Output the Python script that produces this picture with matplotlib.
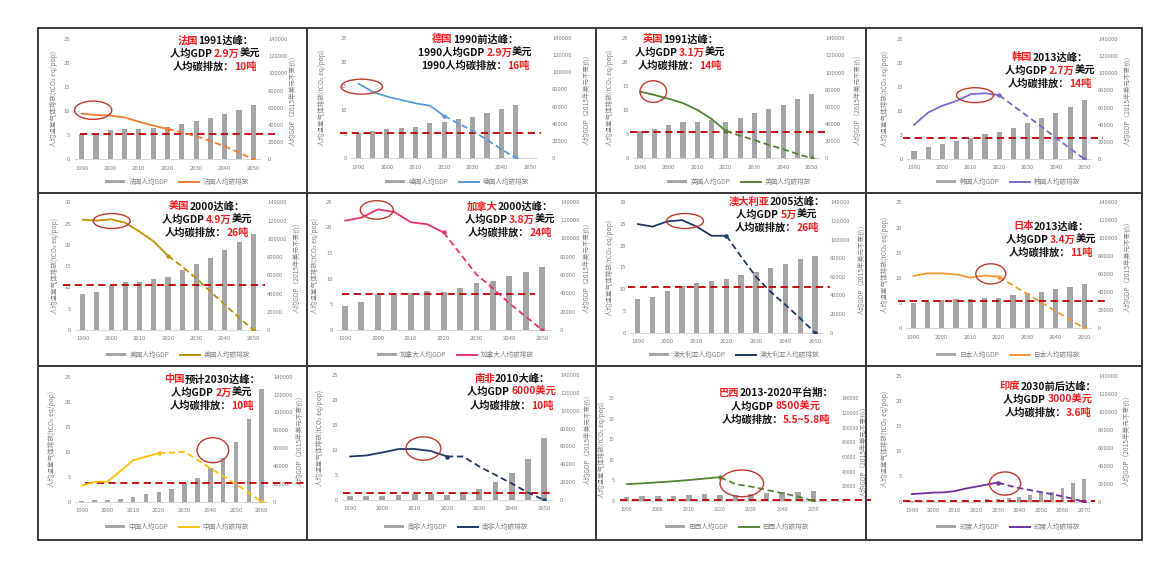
import numpy as np
import matplotlib
matplotlib.use("Agg")
import matplotlib.pyplot as plt
from matplotlib.patches import Ellipse, Rectangle, Patch
from matplotlib.lines import Line2D
from matplotlib.offsetbox import TextArea, HPacker, VPacker, AnnotationBbox

W, H, DPI = 1166, 567, 100
CJK = ['Noto Sans CJK SC', 'DejaVu Sans']
plt.rcParams['font.family'] = CJK

# ---------------------------------------------------------------- data
years_2050 = [1990, 1995, 2000, 2005, 2010, 2015, 2020, 2025, 2030, 2035, 2040, 2045, 2050]
years_2060 = years_2050 + [2055, 2060]
years_2070 = years_2060 + [2065, 2070]

france_gdp = [29100, 30300, 34100, 35300, 35300, 36800, 38000, 41100, 44600, 48500, 52700, 57400, 63200]
france_emis = [9.5, 9.2, 9.1, 8.7, 7.8, 7.0, 6.3, 5.6, 4.8, 3.8, 2.7, 1.4, 0.0]

germany_gdp = [29000, 31700, 34000, 34800, 36700, 40600, 41800, 45200, 48300, 52200, 57200, 61900]
germany_emis = [15.5, 13.8, 12.8, 12.1, 11.4, 10.9, 8.8, 7.2, 5.7, 3.8, 1.9, 0.0]

uk_gdp = [31900, 33800, 38900, 42800, 42800, 44700, 42000, 47400, 52500, 57600, 62200, 69200, 75100]
uk_emis = [13.9, 13.2, 12.4, 11.5, 10.1, 8.2, 5.7, 4.7, 3.8, 2.8, 1.9, 0.9, 0.0]

korea_gdp = [9300, 13600, 17100, 21400, 24900, 29200, 31900, 35800, 41600, 47400, 53300, 61100, 68800]
korea_emis = [7.1, 9.7, 11.1, 12.1, 13.5, 13.7, 13.3, 11.1, 8.9, 6.7, 4.4, 2.2, 0.0]

usa_gdp = [39500, 41300, 48600, 52300, 52300, 55900, 57800, 65800, 72400, 79300, 87700, 96100, 105300]
usa_emis = [25.9, 25.7, 26.0, 25.2, 23.1, 20.8, 17.4, 14.9, 12.1, 9.0, 5.9, 2.9, 0.0]

canada_gdp = [26200, 30900, 38900, 40000, 40000, 42500, 41100, 46200, 50900, 53800, 58900, 63600, 68400]
canada_emis = [21.3, 21.9, 23.5, 23.0, 21.0, 20.6, 19.0, 14.9, 10.8, 8.1, 5.2, 2.6, 0.0]

australia_gdp = [36200, 38700, 44800, 50500, 53000, 55500, 57300, 61600, 65500, 69100, 73800, 78800, 82700]
australia_emis = [25.0, 24.4, 25.6, 25.9, 24.4, 22.3, 22.3, 17.5, 12.9, 9.4, 6.4, 3.3, 0.0]

japan_gdp = [27800, 29600, 31500, 32600, 32200, 34100, 34100, 37000, 38900, 40700, 43700, 46300, 49300]
japan_emis = [10.4, 10.9, 10.9, 10.7, 10.05, 10.45, 10.25, 8.5, 6.8, 5.1, 3.4, 1.7, 0.0]

china_gdp = [750, 1500, 2200, 3400, 5600, 8200, 11200, 14200, 19800, 26100, 37300, 48500, 67200, 92600, 126200]
china_emis = [3.2, 4.0, 4.0, 6.1, 8.3, 9.0, 9.7, 9.8, 10.0, 8.4, 6.7, 5.1, 3.5, 1.8, 0.0]

safrica_gdp = [4500, 4500, 4900, 5600, 6300, 6300, 5600, 8200, 12300, 19800, 29900, 45500, 69800]
safrica_emis = [8.7, 8.9, 9.5, 10.2, 10.2, 9.8, 8.7, 8.7, 6.7, 5.0, 3.3, 1.5, 0.0]

brazil_gdp = [5900, 6800, 6800, 6800, 8200, 9100, 7700, 8200, 9500, 10900, 11800, 12700, 13600]
brazil_emis = [4.1, 4.3, 4.55, 4.8, 5.1, 5.45, 5.8, 4.1, 3.5, 2.7, 1.9, 1.1, 0.0]

india_gdp = [370, 370, 740, 1100, 1500, 1900, 2200, 2600, 3300, 3700, 5600, 7400, 9600, 11100, 14800, 20400, 25200]
india_emis = [1.5, 1.65, 1.8, 1.85, 2.1, 2.6, 3.0, 3.4, 3.8, 3.2, 2.7, 2.3, 1.9, 1.5, 1.05, 0.55, 0.0]

# reference level on the emissions axis
ref_levels = dict(france=5.2, germany=5.2, uk=5.55, korea=4.3, usa=10.6, canada=6.95,
                  australia=10.4, japan=5.4, china=3.65, safrica=1.47, brazil=0.25, india=0.1)

# ---------------------------------------------------------------- styles
BAR_GRAY = '#A5A5A5'
AXIS_GRAY = '#808080'
REF_RED = '#C00000'
RING_RED = '#C0392B'
TXT_RED = '#F01E1E'
K = '#111111'

LEFT_LABEL = '人均温室气体排放(tCO₂ eq/pop)'
RIGHT_LABEL = '人均GDP（2015年美元不变价）'

panels = [
    dict(name='法国', years=years_2050, gdp=france_gdp, emis=france_emis, solid_end=6, ymax=25,
         color='#ED7D31', ref=ref_levels['france'], ring=(0.8, 10.2, 2.6, 3.8),
         note=[[('法国', TXT_RED), ('1991达峰：', K)],
               [('人均GDP ', K), ('2.9万', TXT_RED), ('美元', K)],
               [('人均碳排放：', K), ('10吨', TXT_RED)]],
         lay=dict(box=(38, 28, 307, 193), x0=81.7, xN=253.3, y0=159.3, yt=39, ll=54, lr=293, rt=268,
                  lg=(177, 182), txt=(215, 35), span=(-0.1, 13.5))),
    dict(name='德国', years=years_2050, gdp=germany_gdp, emis=germany_emis, solid_end=6, ymax=25,
         color='#5B9BD5', ref=ref_levels['germany'], ring=(0.24, 14.85, 2.9, 3.1),
         note=[[('德国', TXT_RED), ('1990前达峰：', K)],
               [('1990人均GDP ', K), ('2.9万', TXT_RED), ('美元', K)],
               [('1990人均碳排放：', K), ('16吨', TXT_RED)]],
         lay=dict(box=(307, 28, 596, 193), x0=358.3, xN=530, y0=158.3, yt=37.7, ll=322, lr=587, rt=552,
                  lg=(457, 182), txt=(475, 34), span=(-1.3, 12.8))),
    dict(name='英国', years=years_2050, gdp=uk_gdp, emis=uk_emis, solid_end=6, ymax=25,
         color='#548235', ref=ref_levels['uk'], ring=(0.93, 13.9, 1.86, 4.5),
         note=[[('英国', TXT_RED), ('1991达峰：', K)],
               [('人均GDP ', K), ('3.1万', TXT_RED), ('美元', K)],
               [('人均碳排放：', K), ('14吨', TXT_RED)]],
         lay=dict(box=(596, 28, 866, 193), x0=640, xN=811.7, y0=158.3, yt=38.3, ll=610, lr=858, rt=825,
                  lg=(739, 182), txt=(680, 34), span=(-0.7, 13.1))),
    dict(name='韩国', years=years_2050, gdp=korea_gdp, emis=korea_emis, solid_end=6, ymax=25,
         color='#7B68CC', ref=ref_levels['korea'], ring=(4.3, 13.3, 2.6, 3.1),
         note=[[('韩国', TXT_RED), ('2013达峰：', K)],
               [('人均GDP ', K), ('2.7万', TXT_RED), ('美元', K)],
               [('人均碳排放：', K), ('14吨', TXT_RED)]],
         lay=dict(box=(866, 28, 1142, 193), x0=914, xN=1084.3, y0=159, yt=39, ll=885, lr=1128, rt=1098,
                  lg=(1008, 182), txt=(1050, 52), span=(-0.8, 13.3))),
    dict(name='美国', years=years_2050, gdp=usa_gdp, emis=usa_emis, solid_end=6, ymax=30,
         color='#BF9000', ref=ref_levels['usa'], ring=(2.04, 25.6, 2.6, 3.5),
         note=[[('美国', TXT_RED), ('2000达峰：', K)],
               [('人均GDP ', K), ('4.9万', TXT_RED), ('美元', K)],
               [('人均碳排放：', K), ('26吨', TXT_RED)]],
         lay=dict(box=(38, 193, 307, 366), x0=82.7, xN=253.3, y0=330, yt=202.3, ll=55, lr=297, rt=267,
                  lg=(178, 355), txt=(207, 201), span=(-1.4, 12.8))),
    dict(name='加拿大', years=years_2050, gdp=canada_gdp, emis=canada_emis, solid_end=6, ymax=25,
         color='#E8336E', ref=ref_levels['canada'], ring=(1.93, 23.4, 2.0, 3.6),
         note=[[('加拿大', TXT_RED), ('2000达峰：', K)],
               [('人均GDP ', K), ('3.8万', TXT_RED), ('美元', K)],
               [('人均碳排放：', K), ('24吨', TXT_RED)]],
         lay=dict(box=(307, 193, 596, 366), x0=345, xN=542.3, y0=330, yt=201.7, ll=315, lr=587, rt=560,
                  lg=(455, 355), txt=(510, 201), span=(-0.2, 11.55))),
    dict(name='澳大利亚', years=years_2050, gdp=australia_gdp, emis=australia_emis, solid_end=6, ymax=30,
         color='#1F3864', ref=ref_levels['australia'], ring=(3.2, 25.7, 2.5, 3.45),
         note=[[('澳大利亚', TXT_RED), ('2005达峰：', K)],
               [('人均GDP ', K), ('5万', TXT_RED), ('美元', K)],
               [('人均碳排放：', K), ('26吨', TXT_RED)]],
         lay=dict(box=(596, 193, 866, 366), x0=637.7, xN=815, y0=332.7, yt=202.3, ll=610, lr=862, rt=830,
                  lg=(734, 355), txt=(777, 196), span=(-0.66, 13.0))),
    dict(name='日本', years=years_2050, gdp=japan_gdp, emis=japan_emis, solid_end=6, ymax=25,
         color='#F7962F', ref=ref_levels['japan'], ring=(5.44, 10.8, 2.1, 4.0),
         note=[[('日本', TXT_RED), ('2013达峰：', K)],
               [('人均GDP ', K), ('3.4万', TXT_RED), ('美元', K)],
               [('人均碳排放：', K), ('11吨', TXT_RED)]],
         lay=dict(box=(866, 193, 1142, 366), x0=913.3, xN=1084.3, y0=328.3, yt=202.3, ll=885, lr=1128, rt=1098,
                  lg=(1008, 355), txt=(1051, 221), span=(-1.1, 13.7))),
    dict(name='中国', years=years_2060, gdp=china_gdp, emis=china_emis, solid_end=6, ymax=25,
         color='#FFC000', ref=ref_levels['china'], ring=(10.2, 10.3, 2.46, 5.0),
         note=[[('中国', TXT_RED), ('预计2030达峰：', K)],
               [('人均GDP ', K), ('2万', TXT_RED), ('美元', K)],
               [('人均碳排放：', K), ('10吨', TXT_RED)]],
         lay=dict(box=(38, 366, 307, 540), x0=81.7, xN=261.7, y0=501.7, yt=376.7, ll=52, lr=300, rt=273,
                  lg=(177, 527), txt=(212, 374), span=(0.26, 17.5))),
    dict(name='南非', years=years_2050, gdp=safrica_gdp, emis=safrica_emis, solid_end=6, ymax=25,
         color='#1F3864', ref=ref_levels['safrica'], ring=(4.54, 10.3, 2.16, 4.67),
         note=[[('南非', TXT_RED), ('2010大峰：', K)],
               [('人均GDP ', K), ('6000美元', TXT_RED)],
               [('人均碳排放：', K), ('10吨', TXT_RED)]],
         lay=dict(box=(307, 366, 596, 540), x0=350, xN=544, y0=500, yt=375, ll=320, lr=588, rt=560,
                  lg=(456, 527), txt=(512, 374), span=(-0.43, 12.4))),
    dict(name='巴西', years=years_2050, gdp=brazil_gdp, emis=brazil_emis, solid_end=6, ymax=25,
         color='#548235', ref=ref_levels['brazil'], ring=(7.4, 4.3, 2.8, 6.5),
         note=[[('巴西', TXT_RED), ('2013-2020平台期：', K)],
               [('人均GDP ', K), ('8500美元', TXT_RED)],
               [('人均碳排放：', K), ('5.5~5.8吨', TXT_RED)]],
         lay=dict(box=(596, 366, 866, 540), x0=626.7, xN=813.3, y0=501, yt=398.3, ll=602, lr=864, rt=842,
                  lg=(737, 527), txt=(776, 388), span=(-0.43, 15.7), xhi=13.8, tick=3.7)),
    dict(name='印度', years=years_2070, gdp=india_gdp, emis=india_emis, solid_end=8, ymax=25,
         color='#7030A0', ref=ref_levels['india'], ring=(8.67, 3.6, 2.9, 4.6),
         note=[[('印度', TXT_RED), ('2030前后达峰：', K)],
               [('人均GDP ', K), ('3000美元', TXT_RED)],
               [('人均碳排放：', K), ('3.6吨', TXT_RED)]],
         lay=dict(box=(866, 366, 1142, 540), x0=911.7, xN=1084, y0=501.7, yt=375.7, ll=885, lr=1127, rt=1098,
                  lg=(1008, 527), txt=(1048, 381), span=(-0.8, 17.0))),
]

fig = plt.figure(figsize=(W / DPI, H / DPI), dpi=DPI)
fig.patch.set_facecolor('white')


def fxy(px, py):
    return px / W, 1 - py / H


def draw_panel(p):
    lay = p['lay']
    tick_size = lay.get('tick', 4.2)
    n_cat = len(p['years'])
    ppi = (lay['xN'] - lay['x0']) / (n_cat - 1)
    xlo, xhi = -0.5, lay.get('xhi', n_cat - 0.5)
    left = lay['x0'] + xlo * ppi
    right = lay['x0'] + xhi * ppi

    # panel frame
    bx0, by0, bx1, by1 = lay['box']
    fig.add_artist(Rectangle(fxy(bx0, by1), (bx1 - bx0) / W, (by1 - by0) / H,
                             transform=fig.transFigure, fill=False, ec='#3A3A3A', lw=1.4))

    # GDP bars on the base axes (scale shown on the right)
    ax = fig.add_axes([left / W, 1 - lay['y0'] / H, (right - left) / W, (lay['y0'] - lay['yt']) / H])
    ax.patch.set_alpha(0)
    ax.bar(np.arange(len(p['gdp'])), p['gdp'], width=0.36, color=BAR_GRAY, zorder=2)
    ax.set_xlim(xlo, xhi)
    ax.set_ylim(0, 140000)
    ax.set_yticks(range(0, 140001, 20000))
    ax.set_xticks(range(0, n_cat, 2))
    ax.set_xticklabels([str(y) for y in p['years'][::2]])
    for s in ('top', 'left', 'right'):
        ax.spines[s].set_visible(False)
    ax.spines['bottom'].set_color('#D0D0D0')
    ax.spines['bottom'].set_linewidth(0.6)

    # emissions on the twin axes (scale shown on the left)
    ax2 = ax.twinx()
    ax2.set_ylim(0, p['ymax'])
    ax2.set_yticks(range(0, p['ymax'] + 1, 5))
    for s in ax2.spines.values():
        s.set_visible(False)

    ax.yaxis.set_ticks_position('right')
    ax2.yaxis.set_ticks_position('left')
    rpad = (lay['rt'] - right) * 72 / DPI
    ax.tick_params(axis='y', which='both', length=0, labelsize=tick_size, labelcolor=AXIS_GRAY, pad=rpad,
                   left=False, labelleft=False, right=True, labelright=True)
    ax.tick_params(axis='x', length=0, labelsize=tick_size + 0.1, labelcolor=AXIS_GRAY, pad=4.5)
    ax2.tick_params(axis='y', which='both', length=0, labelsize=tick_size, labelcolor=AXIS_GRAY, pad=3,
                    left=True, labelleft=True, right=False, labelright=False)

    # reference level
    ax2.plot(lay['span'], [p['ref'], p['ref']], color=REF_RED, lw=1.3,
             ls=(0, (4, 2.5)), clip_on=False, zorder=4)

    # emission path: history solid, projection dashed
    idx = np.arange(len(p['emis']))
    s = p['solid_end']
    ax2.plot(idx[:s + 1], p['emis'][:s + 1], color=p['color'], lw=1.3, zorder=5,
             solid_capstyle='round')
    ax2.plot(idx[s:], p['emis'][s:], color=p['color'], lw=1.3, ls=(0, (3.5, 2)), zorder=5)
    ax2.plot([idx[s], idx[-1]], [p['emis'][s], p['emis'][-1]], ls='none', marker='o',
             ms=2.2, color=p['color'], zorder=6)

    cx, cy, ew, eh = p['ring']
    ax2.add_patch(Ellipse((cx, cy), ew, eh, fill=False, ec=RING_RED, lw=1.0,
                          zorder=7, clip_on=False))

    # axis titles
    ymid = (lay['y0'] + lay['yt']) / 2
    fig.text(*fxy(lay['ll'], ymid), LEFT_LABEL, rotation=90, ha='center', va='center',
             fontsize=4.8, color=AXIS_GRAY)
    fig.text(*fxy(lay['lr'], ymid), RIGHT_LABEL, rotation=90, ha='center', va='center',
             fontsize=4.8, color=AXIS_GRAY)

    # legend
    handles = [Patch(facecolor=BAR_GRAY, edgecolor='none'),
               Line2D([], [], color=p['color'], lw=1.4)]
    labels = [p['name'] + '人均GDP', p['name'] + '人均碳排放']
    ax2.legend(handles, labels, loc='center', bbox_to_anchor=fxy(*lay['lg']),
               bbox_transform=fig.transFigure, ncol=2, frameon=False, fontsize=4.8,
               handlelength=3.0, handleheight=0.45, columnspacing=1.6, handletextpad=0.5,
               labelcolor=AXIS_GRAY, borderpad=0, borderaxespad=0)

    # headline note
    rows = []
    for segs in p['note']:
        parts = [TextArea(t, textprops=dict(color=c, fontsize=7.4, fontweight='bold', family=CJK))
                 for t, c in segs]
        rows.append(HPacker(children=parts, align='baseline', pad=0, sep=0))
    block = VPacker(children=rows, align='center', pad=0, sep=2.2)
    ab = AnnotationBbox(block, fxy(*lay['txt']), xycoords='figure fraction',
                        box_alignment=(0.5, 1.0), frameon=False, pad=0,
                        annotation_clip=False, zorder=10)
    fig.add_artist(ab)


for panel in panels:
    draw_panel(panel)

fig.savefig('out.png', dpi=DPI, facecolor='white')
